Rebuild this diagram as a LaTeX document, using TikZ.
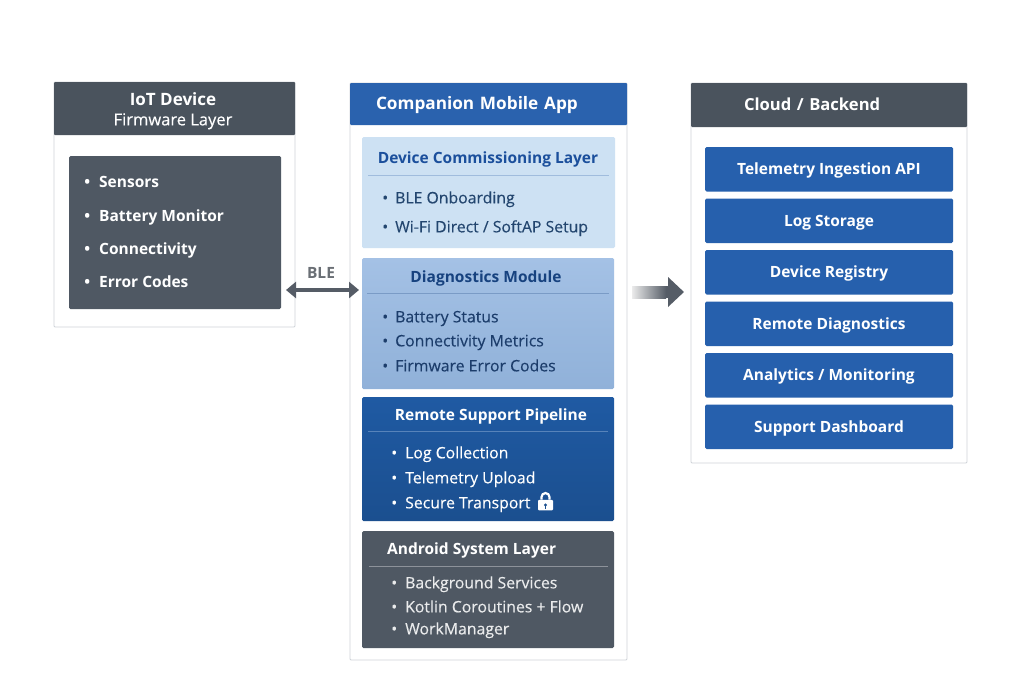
\documentclass[tikz,border=0pt]{standalone}
\usepackage{fontspec}
\setmainfont{Open Sans}
\newfontfamily\itemfont[FakeBold=0.25]{Open Sans}
\usetikzlibrary{calc,positioning,arrows.meta}

\definecolor{slateDark}{HTML}{4A535D}
\definecolor{slateBlock}{HTML}{4F5863}
\definecolor{blueHead}{HTML}{2A62AE}
\definecolor{blueTile}{HTML}{2660AD}
\definecolor{frameLine}{HTML}{CFD3D8}
\definecolor{arrowDark}{HTML}{555C66}
\definecolor{bleGray}{HTML}{6A6F75}
\definecolor{commFill}{HTML}{CDE1F3}
\definecolor{commTitle}{HTML}{1B4F9C}
\definecolor{commText}{HTML}{23466F}
\definecolor{diagTop}{HTML}{A4C1E5}
\definecolor{diagBottom}{HTML}{90B1D9}
\definecolor{diagTitle}{HTML}{17427F}
\definecolor{diagText}{HTML}{1C3D6B}
\definecolor{remoteTop}{HTML}{1F5AA3}
\definecolor{remoteBottom}{HTML}{1B4F8F}

\begin{document}
\begin{tikzpicture}[x=1pt,y=-1pt,
  node distance=7pt,
  text height=2.25ex,text depth=.25ex,
  frame/.style={
    rectangle,
    draw=frameLine,
    fill=white,
    line width=.8pt,
    anchor=north west,
    outer sep=0pt,
    rounded corners=1pt,
  },
  header/.style={
    rectangle,
    anchor=north west,
    outer sep=0pt,
    inner xsep=0pt,
    text=white,
    font=\fontsize{17.2}{20}\selectfont\bfseries,
    rounded corners=1pt,
  },
  block/.style={
    rectangle,
    anchor=north west,
    minimum width=252pt,
    outer sep=0pt,
    rounded corners=1.5pt,
  },
  tile/.style={
    rectangle,
    fill=blueTile,
    text=white,
    minimum width=248pt,
    minimum height=44.5pt,
    inner sep=0pt,
    outer sep=0pt,
    font=\fontsize{15.5}{18}\selectfont\bfseries,
    rounded corners=1.5pt,
  },
  blocktitle/.style={font=\fontsize{15.5}{18}\selectfont\bfseries},
  itemtext/.style={anchor=west,inner xsep=0pt,font=\fontsize{15.8}{18}\itemfont},
  iotitem/.style={anchor=west,inner xsep=0pt,text=white,font=\fontsize{15.5}{18}\selectfont\bfseries},
]
\useasboundingbox (0,0) rectangle (1024,683);
\fill[white] (0,0) rectangle (1024,683);

% left column
\node[frame,minimum width=241pt,minimum height=245pt] (iotFrame) at (54,82) {};
\node[header,fill=slateDark,minimum width=241pt,minimum height=53pt] (iotHeader) at (54,82) {};
\node[text=white,font=\fontsize{17}{20}\selectfont\bfseries] (iotTitle) at (173,100) {IoT Device};
\node[text=white,font=\fontsize{16.5}{19}\itemfont] (iotSub) at (173,120) {Firmware Layer};
\node[block,fill=slateBlock,minimum width=212pt,minimum height=153pt] (iotList) at (69,156) {};
\foreach \yy/\txt in {182/Sensors,216/Battery Monitor,249/Connectivity,282/Error Codes}
  \node[iotitem] (iotItem\yy) at (99,\yy) {\llap{\textbullet\hspace{9pt}}\txt};

% middle column
\node[frame,minimum width=277pt,minimum height=577pt] (appFrame) at (350,83) {};
\node[header,fill=blueHead,minimum height=42pt,text width=225pt,align=left,inner xsep=26pt] (appHeader) at (350,83) {Companion Mobile App};

\node[block,fill=commFill,minimum width=253pt,minimum height=111pt] (comm) at (362,137) {};
\node[blocktitle,text=commTitle] (commHead) at (488,158) {Device Commissioning Layer};
\draw[commTitle!25!commFill] ([xshift=6pt,yshift=-38pt]comm.north west) -- ([xshift=-6pt,yshift=-38pt]comm.north east);
\foreach \yy/\txt in {198/BLE Onboarding,227/{Wi-Fi Direct / SoftAP Setup}}
  \node[itemtext,text=commText] (commItem\yy) at (395,\yy) {\llap{\textbullet\hspace{7pt}}\txt};

\node[block,top color=diagTop,bottom color=diagBottom,minimum height=131pt] (diag) at (362,258) {};
\node[blocktitle,text=diagTitle] (diagHead) at (486,277) {Diagnostics Module};
\draw[diagTitle!30!diagTop] ([xshift=5pt,yshift=-35pt]diag.north west) -- ([xshift=-5pt,yshift=-35pt]diag.north east);
\foreach \yy/\txt in {317/Battery Status,341/Connectivity Metrics,366/Firmware Error Codes}
  \node[itemtext,text=diagText] (diagItem\yy) at (395,\yy) {\llap{\textbullet\hspace{7pt}}\txt};

\node[block,top color=remoteTop,bottom color=remoteBottom,minimum height=124pt] (remote) at (362,397) {};
\node[blocktitle,text=white] (remoteHead) at (491,415) {Remote Support Pipeline};
\draw[white!25!remoteTop] ([xshift=6pt,yshift=-34pt]remote.north west) -- ([xshift=-6pt,yshift=-34pt]remote.north east);
\foreach \yy/\txt in {453/Log Collection,478/Telemetry Upload,503/Secure Transport}
  \node[itemtext,text=white] (remoteItem\yy) at (405,\yy) {\llap{\textbullet\hspace{8pt}}\txt};
% lock
\node[rectangle,fill=white,minimum width=15pt,minimum height=10.5pt,text height=0pt,text depth=0pt,inner sep=0pt,rounded corners=1pt] (lockBody) at (545.5,505) {};
\draw[white,line width=2.2pt] ([xshift=-4pt]lockBody.north) -- ++(0,-2.5) arc[start angle=180,end angle=0,radius=4pt] -- ([xshift=4pt]lockBody.north);
\fill[remoteBottom] (lockBody.center) circle[radius=1.6pt];
\fill[remoteBottom] ([xshift=-.8pt]lockBody.center) rectangle ++(1.6,3.6);

\node[block,fill=slateBlock,minimum height=117pt] (android) at (362,531) {};
\node[blocktitle,text=white,anchor=west,inner xsep=0pt] (androidHead) at (387,549) {Android System Layer};
\draw[white!35!slateBlock] ([xshift=7pt,yshift=-35pt]android.north west) -- ([xshift=-6pt,yshift=-35pt]android.north east);
\foreach \yy/\txt in {583/Background Services,607/Kotlin Coroutines + Flow,629/WorkManager}
  \node[itemtext,text=white!88!slateBlock] (androidItem\yy) at (405,\yy) {\llap{\textbullet\hspace{8pt}}\txt};

% right column
\node[frame,minimum width=276pt,minimum height=380pt] (cloudFrame) at (691,83) {};
\node[header,fill=slateDark,minimum height=44pt,text width=170pt,align=left,inner xsep=53pt,font=\fontsize{16.6}{20}\selectfont\bfseries] (cloudHeader) at (691,83) {Cloud / Backend};

\node[tile,anchor=north west] (ingest) at (705,147) {Telemetry Ingestion API};
\node[tile] (logStorage) [below=of ingest] {Log Storage};
\node[tile] (registry) [below=of logStorage] {Device Registry};
\node[tile] (remoteDiag) [below=of registry] {Remote Diagnostics};
\node[tile] (analytics) [below=of remoteDiag] {Analytics / Monitoring};
\node[tile] (dashboard) [below=of analytics] {Support Dashboard};

% connectors
\draw[{Triangle[length=10pt,width=16pt]}-{Triangle[length=10pt,width=16pt]},arrowDark,line width=4pt]
  ([xshift=5pt,yshift=-57.5pt]iotList.east) -- ([xshift=-3pt,yshift=33.5pt]diag.west);
\node[text=bleGray,font=\fontsize{15.5}{17}\selectfont\bfseries] (bleLabel) at (321,273) {BLE};
\draw[-{Triangle[length=16pt,width=29pt]},arrowDark,line width=12pt]
  ([xshift=5pt,yshift=79.5pt]appFrame.east) -- ([xshift=-7pt,yshift=-19pt]cloudFrame.west);
\shade[left color=black!8,right color=arrowDark]
  ([xshift=5pt,yshift=85.5pt]appFrame.east) rectangle ([xshift=-25pt,yshift=-25pt]cloudFrame.west);
\end{tikzpicture}
\end{document}
